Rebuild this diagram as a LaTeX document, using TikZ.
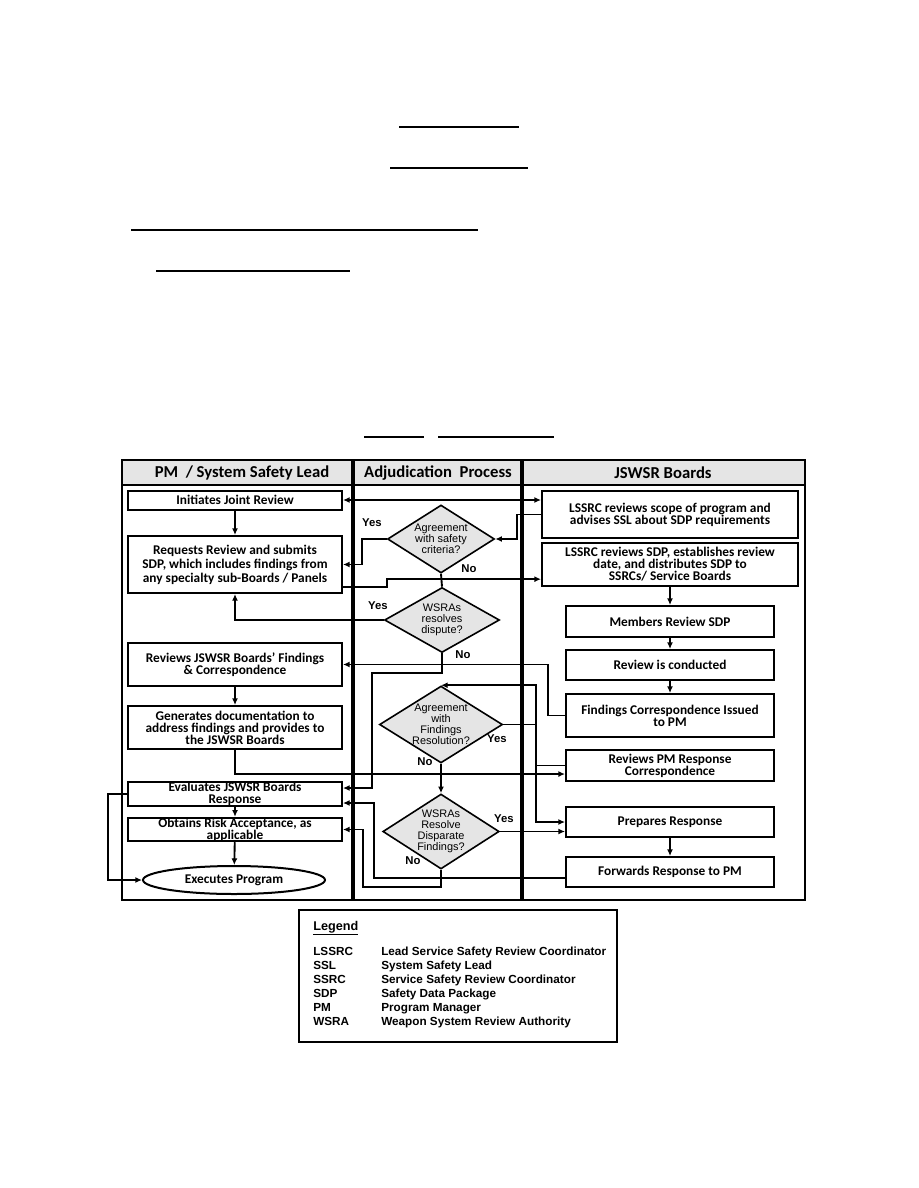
\documentclass[tikz,border=0pt]{standalone}
\usepackage{fontspec}
\setmainfont{Carlito}
\newfontfamily\arialfont{Liberation Sans}
\usetikzlibrary{shapes.geometric,arrows.meta,positioning}

\tikzset{
    flow/.style={line width=1.4pt, -{Latex[length=5pt,width=4.5pt]}},
    plain/.style={line width=1.4pt},
    stepbox/.style={draw, line width=1.5pt, fill=white, align=center, inner sep=0pt,
        font=\bfseries\fontsize{10}{9}\selectfont},
    leftbox/.style={stepbox, minimum width=160.5pt},
    widebox/.style={stepbox, minimum width=192pt},
    narrowbox/.style={stepbox, minimum width=156pt},
    decision/.style={draw, diamond, aspect=1.6, line width=1.2pt, fill=gray!20, inner sep=0pt,
        align=center, font=\arialfont\fontsize{8.2}{8.3}\selectfont},
    lbl/.style={font=\arialfont\bfseries\fontsize{8.5}{9}\selectfont},
    hdr/.style={font=\bfseries\fontsize{12.5}{12}\selectfont},
    legtext/.style={anchor=base west, inner sep=0pt, font=\arialfont\bfseries\fontsize{8.8}{9}\selectfont},
}

\begin{document}
\begin{tikzpicture}[x=0.75pt, y=-0.75pt]
    \useasboundingbox (0,0) rectangle (918,1188);

    % underlines above the chart
    \draw[line width=1.1pt] (399,127) -- (519,127);
    \draw[line width=1.1pt] (390,168) -- (528,168);
    \draw[line width=1.1pt] (131,230) -- (478,230);
    \draw[line width=1.1pt] (156,271) -- (350,271);
    \draw[line width=1.1pt] (364,437) -- (424,437);
    \draw[line width=1.1pt] (438,437) -- (554,437);

    % swim lanes
    \draw[line width=1.2pt, fill=gray!20] (122,460) rectangle (805,485);
    \draw[line width=1.5pt] (122,460) rectangle (805,900);
    \draw[line width=3pt] (353,460) -- (353,900);
    \draw[line width=3pt] (522,460) -- (522,900);
    \node[hdr] (lanepm) at (242,473) {PM~~/ System Safety Lead};
    \node[hdr] (laneadj) at (438,473) {Adjudication~~Process};
    \node[hdr] (laneboards) at (663,473) {JSWSR Boards};

    % PM / system safety lead
    \node[leftbox, minimum height=14.25pt] (init) at (235,500) {Initiates Joint Review};
    \node[leftbox, minimum height=42.75pt, font=\bfseries\fontsize{10}{10.5}\selectfont] (req) at (235,564.5)
        {Requests Review and submits\\SDP, which includes findings from\\any specialty sub-Boards / Panels};
    \node[leftbox, minimum height=32.25pt] (revf) at (235,664.5) {Reviews JSWSR Boards' Findings\\\& Correspondence};
    \node[leftbox, minimum height=32.25pt] (gen) at (235,727.5)
        {Generates documentation to\\address findings and provides to\\the JSWSR Boards};
    \node[leftbox, minimum height=18pt] (eval) at (235,794) {Evaluates JSWSR Boards\\Response};
    \node[leftbox, minimum height=15.75pt] (obt) at (235,829.5) {Obtains Risk Acceptance, as\\applicable};
    \node[draw, ellipse, line width=1.5pt, inner sep=0pt, minimum width=136.5pt, minimum height=21pt,
        font=\bfseries\fontsize{10}{9}\selectfont] (exec) at (234,880) {Executes Program};

    % adjudication
    \node[decision, minimum width=80.25pt, minimum height=51pt] (d1) at (441,539) {Agreement\\with safety\\criteria?};
    \node[decision, minimum width=86.25pt, minimum height=48.75pt] (d2) at (442,620) {WSRAs\\resolves\\dispute?};
    \node[decision, minimum width=84pt, minimum height=56.25pt] (d3) at (441,724.5) {Agreement\\with\\Findings\\Resolution?};
    \node[decision, minimum width=84pt, minimum height=56.25pt] (d4) at (441,831.5) {WSRAs\\Resolve\\Disparate\\Findings?};

    % JSWSR boards
    \node[widebox, minimum height=35.25pt] (scope) at (670,514.5) {LSSRC reviews scope of program and\\advises SSL about SDP requirements};
    \node[widebox, minimum height=32.25pt] (sdp) at (670,564.5) {LSSRC reviews SDP, establishes review\\date, and distributes SDP to\\SSRCs/ Service Boards};
    \node[narrowbox, minimum height=23.25pt] (memb) at (670,621.5) {Members Review SDP};
    \node[narrowbox, minimum height=22.5pt] (cond) at (670,665) {Review is conducted};
    \node[narrowbox, minimum height=32.25pt] (issued) at (670,715.5) {Findings Correspondence Issued\\to PM};
    \node[narrowbox, minimum height=23.25pt] (revpm) at (670,765.5) {Reviews PM Response\\Correspondence};
    \node[narrowbox, minimum height=22.5pt] (prep) at (670,822) {Prepares Response};
    \node[narrowbox, minimum height=22.5pt] (fwd) at (670,872) {Forwards Response to PM};

    % connectors
    \draw[flow, {Latex[length=5pt,width=4.5pt]}-{Latex[length=5pt,width=4.5pt]}] (init.east) -- (init.east -| scope.west);
    \draw[flow] (init) -- (req);
    \draw[flow] (scope.west) -- ++(-24,0) |- (d1.east);
    \draw[flow] (d1.west) -- ++(-25,0) |- (req.east);
    \draw[plain] (d1.south) -- (d2.north);
    \draw[flow] ([yshift=5pt]req.south east) -- ++(44,0) |- ([yshift=-11pt]sdp.west);
    \draw[flow] (d2.west) -| (req.south);
    \draw[flow] (d2.south) -- ++(0,20) -- ++(-70,0) |- ([yshift=4.5pt]eval.east);
    \draw[flow] (sdp) -- (memb);
    \draw[flow] (memb) -- (cond);
    \draw[flow] (cond) -- (issued);
    \draw[flow] (issued.west) -- ++(-17,0) |- (revf.east);
    \draw[flow] (revf) -- (gen);
    \draw[flow] (gen.south) |- ([yshift=-6.4pt]revpm.west);
    \draw[flow] (revpm.west) -- ++(-29,0) |- (d3.north);
    \draw[flow] (d3.east) -- ++(33,0) |- (prep.west);
    \draw[flow] (d3) -- (d4);
    \draw[flow] (d4.east) -- (d4.east -| prep.west);
    \draw[flow] (prep) -- (fwd);
    \draw[flow] ([yshift=-4.5pt]fwd.west) -- ++(-191,0) |- ([yshift=-6.75pt]eval.east);
    \draw[flow] (d4.south) -- ++(0,17) -- ++(-78,0) |- (obt.east);
    \draw[flow] (eval) -- (obt);
    \draw[flow] (obt) -- (exec);
    \draw[flow] (eval.west) -- ++(-19,0) |- (exec.west);

    % yes / no
    \node[lbl] (yes1) at (372,523) {Yes};
    \node[lbl] (no1) at (469,569) {No};
    \node[lbl] (yes2) at (378,606) {Yes};
    \node[lbl] (no2) at (463,655) {No};
    \node[lbl] (yes3) at (497,739) {Yes};
    \node[lbl] (no3) at (425,762) {No};
    \node[lbl] (yes4) at (504,819) {Yes};
    \node[lbl] (no4) at (413,861) {No};

    % legend
    \draw[line width=1.2pt] (299,910) rectangle (617,1042);
    \node[legtext, font=\arialfont\bfseries\fontsize{9.5}{10}\selectfont] (legend) at (313,930) {\underline{Legend}};
    \foreach \ab/\full [count=\i from 0] in {LSSRC/Lead Service Safety Review Coordinator,
        SSL/System Safety Lead, SSRC/Service Safety Review Coordinator, SDP/Safety Data Package,
        PM/Program Manager, WSRA/Weapon System Review Authority}{
        \node[legtext] (ab\i) at (313,955+14*\i) {\ab};
        \node[legtext] (full\i) at (381,955+14*\i) {\full};
    }
\end{tikzpicture}
\end{document}
